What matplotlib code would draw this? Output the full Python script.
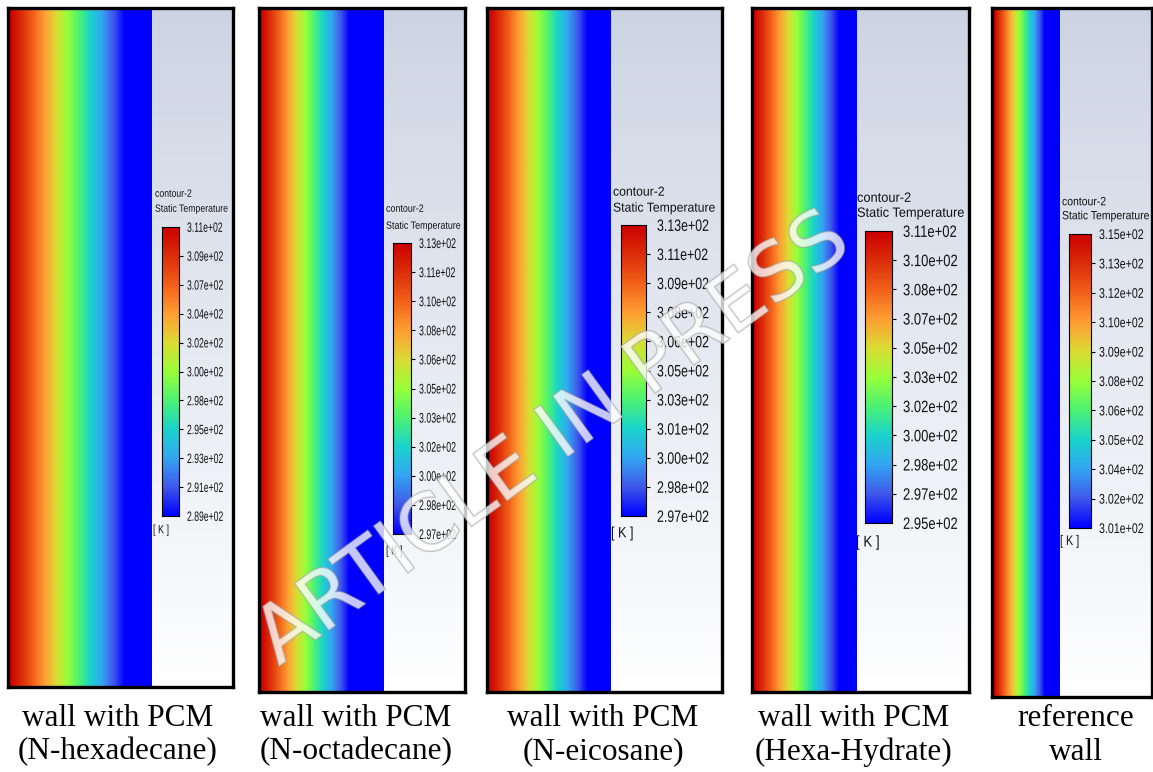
import numpy as np
import matplotlib
matplotlib.use('Agg')
import matplotlib.pyplot as plt
import matplotlib.patheffects as pe
from matplotlib.colors import LinearSegmentedColormap
from matplotlib.textpath import TextPath
from matplotlib.patches import PathPatch
from matplotlib.font_manager import FontProperties
from matplotlib.transforms import Affine2D

# ---- data ----
captions_top = ['wall with PCM', 'wall with PCM', 'wall with PCM', 'wall with PCM', 'reference']
captions_bottom = ['(N-hexadecane)', '(N-octadecane)', '(N-eicosane)', '(Hexa-Hydrate)', 'wall']

t_max = [311, 313, 313, 311, 315]   # K, hot face / top of colour bar
t_min = [289, 297, 297, 295, 301]   # K, cold face / bottom of colour bar

labels_hexadecane = ['3.11e+02', '3.09e+02', '3.07e+02', '3.04e+02', '3.02e+02', '3.00e+02',
                     '2.98e+02', '2.95e+02', '2.93e+02', '2.91e+02', '2.89e+02']
labels_octadecane = ['3.13e+02', '3.11e+02', '3.10e+02', '3.08e+02', '3.06e+02', '3.05e+02',
                     '3.03e+02', '3.02e+02', '3.00e+02', '2.98e+02', '2.97e+02']
labels_eicosane = ['3.13e+02', '3.11e+02', '3.09e+02', '3.08e+02', '3.06e+02', '3.05e+02',
                   '3.03e+02', '3.01e+02', '3.00e+02', '2.98e+02', '2.97e+02']
labels_hydrate = ['3.11e+02', '3.10e+02', '3.08e+02', '3.07e+02', '3.05e+02', '3.03e+02',
                  '3.02e+02', '3.00e+02', '2.98e+02', '2.97e+02', '2.95e+02']
labels_reference = ['3.15e+02', '3.13e+02', '3.12e+02', '3.10e+02', '3.09e+02', '3.08e+02',
                    '3.06e+02', '3.05e+02', '3.04e+02', '3.02e+02', '3.01e+02']
tick_labels = [labels_hexadecane, labels_octadecane, labels_eicosane, labels_hydrate, labels_reference]

# share of the wall thickness over which temperature drops before reaching the cold value
drop_frac = [0.81, 0.72, 0.81, 0.83, 0.77]

# ---- layout (pixels of the 1153x772 picture) ----
W, H = 1153, 772
panel_box = [(8, 8, 233, 687), (259, 8, 465, 692), (487, 8, 722, 692),
             (752, 8, 969, 692), (992, 8, 1152, 697)]
wall_right = [152, 384, 610, 857, 1060]
bar_box = [(162, 227, 179, 516), (393, 243, 411, 534), (621, 225, 646, 516),
           (865, 231, 892, 523), (1069, 234, 1091, 528)]
label_x = [187, 419, 657, 903, 1099]
head_x = [155, 386, 613, 857, 1062]
head_y = [(193, 208), (208, 225), (191, 207), (197, 212), (201, 215)]
k_pos = [(153, 529), (386, 550), (611, 532), (856, 541), (1060, 540)]
# (em size in px, horizontal squeeze) for the Fluent-style narrow texts
label_font = [(13.5, 0.64), (14, 0.63), (16.5, 0.75), (16.5, 0.79), (14, 0.76)]
head_font = [(10.5, 0.83), (10.5, 0.85), (13, 0.94), (13.5, 0.95), (12, 0.87)]
cap_x = [118, 356, 603, 854, 1076]

fluent = LinearSegmentedColormap.from_list('fluent', [
    (0.0, 0.0, 1.0), (0.25, 0.35, 0.92), (0.2, 0.65, 0.95), (0.1, 0.83, 0.8),
    (0.3, 0.95, 0.45), (0.6, 1.0, 0.22), (0.86, 0.86, 0.2), (1.0, 0.62, 0.2),
    (0.95, 0.38, 0.1), (0.86, 0.18, 0.04), (0.8, 0.0, 0.0)])

serif = ['Liberation Serif', 'DejaVu Serif']
sans_prop = FontProperties(family='Liberation Sans')

fig = plt.figure(figsize=(W / 100, H / 100), dpi=100)
fig.patch.set_facecolor('white')


def px_axes(x0, y0, x1, y1, z=0):
    return fig.add_axes([x0 / W, 1 - y1 / H, (x1 - x0) / W, (y1 - y0) / H], zorder=z)


def fx(x):
    return x / W


def fy(y):
    return 1 - y / H


bg = np.linspace(0, 1, 256).reshape(-1, 1)
bg_cmap = LinearSegmentedColormap.from_list('bg', [(0.80, 0.83, 0.89), (1, 1, 1)])

for i in range(5):
    x0, y0, x1, y1 = panel_box[i]
    ax = px_axes(x0, y0, x1, y1)
    ax.set_xlim(x0, x1)
    ax.set_ylim(y1, y0)
    # background of the contour window
    ax.imshow(bg, cmap=bg_cmap, aspect='auto', extent=[x0, x1, y1, y0], zorder=0)
    # temperature field across the wall
    n = 300
    s = np.linspace(0, 1, n)
    temp = np.where(s < drop_frac[i],
                    t_max[i] - (t_max[i] - t_min[i]) * s / drop_frac[i], t_min[i])
    ax.imshow(temp.reshape(1, -1), cmap=fluent, vmin=t_min[i], vmax=t_max[i],
              aspect='auto', extent=[x0 + 2, wall_right[i], y1, y0],
              interpolation='bilinear', zorder=1)
    ax.set_xticks([])
    ax.set_yticks([])
    for sp in ax.spines.values():
        sp.set_linewidth(2.4)
        sp.set_color('black')

    # colour bar (tick marks only, labels drawn as squeezed text below)
    bx0, by0, bx1, by1 = bar_box[i]
    cax = px_axes(bx0, by0, bx1, by1, z=1)
    vals = np.linspace(t_min[i], t_max[i], 256).reshape(-1, 1)
    cax.imshow(vals, cmap=fluent, origin='lower', aspect='auto',
               extent=[0, 1, t_min[i], t_max[i]])
    cax.set_ylim(t_min[i], t_max[i])
    cax.set_xticks([])
    cax.yaxis.tick_right()
    cax.set_yticks(np.linspace(t_max[i], t_min[i], len(tick_labels[i]))[1:-1])
    cax.tick_params(axis='y', length=3, width=0.8, labelright=False, colors='black')
    for sp in cax.spines.values():
        sp.set_linewidth(0.8)

# overlay in picture pixels for the narrow Fluent texts
over = fig.add_axes([0, 0, 1, 1], zorder=5)
over.set_xlim(0, W)
over.set_ylim(H, 0)
over.axis('off')


def squeezed(x, y, s, em, sq):
    tp = TextPath((0, 0), s, size=1, prop=sans_prop)
    tr = Affine2D().scale(em * sq, -em).translate(x, y + 0.358 * em) + over.transData
    over.add_patch(PathPatch(tp, transform=tr, facecolor='#111111', edgecolor='none', lw=0))


for i in range(5):
    bx0, by0, bx1, by1 = bar_box[i]
    em, sq = label_font[i]
    ys = np.linspace(by0, by1, len(tick_labels[i]))
    for lab, yy in zip(tick_labels[i], ys):
        squeezed(label_x[i], yy, lab, em, sq)
    hem, hsq = head_font[i]
    squeezed(head_x[i], head_y[i][0], 'contour-2', hem, hsq)
    squeezed(head_x[i], head_y[i][1], 'Static Temperature', hem, hsq)
    squeezed(k_pos[i][0], k_pos[i][1], '[ K ]', hem * 1.15, hsq * 0.9)

    # captions
    fig.text(fx(cap_x[i]), fy(718), captions_top[i], fontfamily=serif,
             fontsize=22.5, ha='center', va='center')
    fig.text(fx(cap_x[i]), fy(752), captions_bottom[i], fontfamily=serif,
             fontsize=22.5, ha='center', va='center')

# watermark
fig.text(fx(553), fy(440), 'ARTICLE IN PRESS', fontsize=57, rotation=36,
         ha='center', va='center', color='white', alpha=0.45, zorder=10,
         path_effects=[pe.Stroke(linewidth=1.3, foreground=(0.62, 0.62, 0.62), alpha=0.6),
                       pe.Normal()])

fig.savefig('out.png', dpi=100)
